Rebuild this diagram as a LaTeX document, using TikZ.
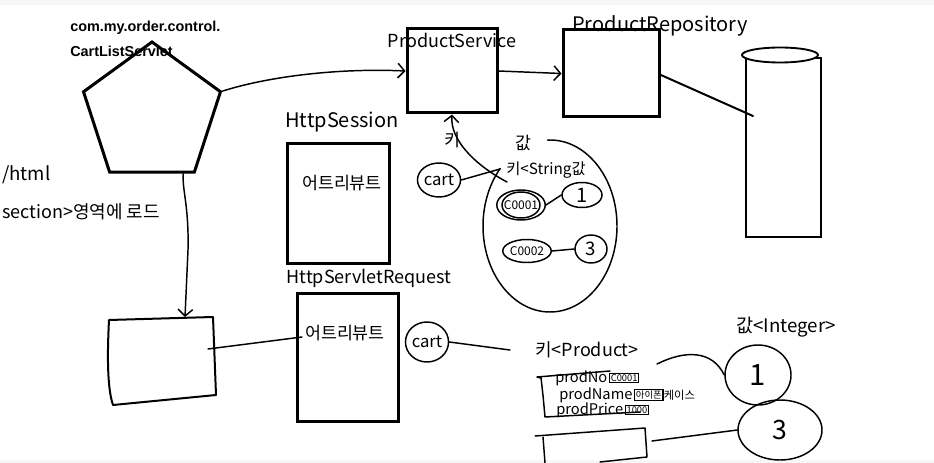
\documentclass[tikz,border=0pt]{standalone}
\usepackage{fontspec}
\setmainfont{Liberation Sans}
\newfontfamily\hw{Noto Sans CJK KR}
\usetikzlibrary{shapes.geometric,arrows.meta,calc}
\begin{document}
\begin{tikzpicture}[x=0.75pt,y=-0.75pt,
  hand/.style={font=\hw\fontsize{#1}{#1}\selectfont, inner sep=0pt},
  thickbox/.style={draw, rectangle, line width=2.25pt, inner sep=0pt},
  pen/.style={line width=1.1pt, line cap=round, line join=round},
  mid/.style={line width=1.5pt, line cap=round, line join=round},
  oval/.style={draw, ellipse, line width=1.1pt, inner sep=0pt},
  tip/.style={-{Straight Barb[length=5pt,width=11pt]}},
  smallbox/.style={draw, line width=0.8pt, inner sep=1pt, font=\hw\fontsize{7}{7}\selectfont},
  pkgtext/.style={font=\bfseries\fontsize{10.8}{12}\selectfont, anchor=base west, inner sep=0pt}
]
\useasboundingbox (0,0) rectangle (934,463);
\fill[white] (0,0) rectangle (934,463);
\fill[gray!7] (0,0) rectangle (934,5);
\fill[gray!7] (0,460) rectangle (934,463);

% title text
\node[pkgtext] (pkg) at (70,32) {com.my.order.control.};
\node[pkgtext] (cls) at (70,57) {CartListServlet};

% left handwritten text
\node[hand=14, anchor=west] (html) at (2,175) {/html};
\node[hand=13.5, anchor=west] (sect) at (2,212) {section>영역에 로드};

% servlet pentagon
\node[draw, regular polygon, regular polygon sides=5, minimum size=108pt,
      line width=2.25pt, inner sep=0pt] (pent) at (152,114) {};

% service / repository / db
\node[thickbox, minimum width=67.5pt, minimum height=63pt] (PS) at (452,71) {};
\node[hand=13.5] (PSl) at (452,40) {ProductService};
\node[thickbox, minimum width=72pt, minimum height=65.25pt] (PR) at (611,73.5) {};
\node[hand=15] (PRl) at (660,26) {ProductRepository};
\node[draw, rectangle, line width=1.6pt, minimum width=56.25pt, minimum height=134.25pt,
      inner sep=0pt] (DB) at (783.5,147.5) {};
\draw[line width=1.4pt, fill=white] (780,55) ellipse [x radius=38, y radius=7.5];
\coordinate (dbin) at (753,116);

\draw[pen, tip] (pent.corner 5) .. controls (270,76) and (340,68) .. (PS.west);
\draw[pen, tip] (PS.east) -- (PR.west);
\draw[mid] ([yshift=-1pt]PR.east) -- (dbin);

% session
\node[hand=15] (sessl) at (342,122) {HttpSession};
\node[thickbox, minimum width=76.5pt, minimum height=89.25pt] (sess) at (338,203.5) {};
\node[hand=13] (sessattr) at (342,183) {어트리뷰트};

% request
\node[hand=13.5] (reql) at (369,278) {HttpServletRequest};
\node[thickbox, minimum width=75.75pt, minimum height=96pt] (req) at (347.5,357) {};
\node[hand=13] (reqattr) at (345,333) {어트리뷰트};

% left box (jsp)
\coordinate (lb1) at (109,320);
\coordinate (lb2) at (213,317);
\coordinate (lb3) at (216,395);
\coordinate (lb4) at (113,405);
\draw[mid] (lb1) -- (lb2) -- (lb3) -- (lb4) .. controls (106,385) and (108,340) .. (lb1);
\coordinate (pentbot) at ($(pent.corner 3)!0.86!(pent.corner 4)$);
\coordinate (lbtop) at (185,317);
\draw[pen, tip] (pentbot) .. controls (182,190) and (189,205) .. (188,250) -- (lbtop);
\coordinate (lbout) at (208,349);
\coordinate (reqin) at (302,337);
\draw[pen] (lbout) -- (reqin);

% session map
\node[hand=13] (key1) at (452,140) {키};
\node[hand=13] (val1) at (523,143) {값};
\node[oval, minimum width=31.5pt, minimum height=25.5pt, hand=12.5] (scart) at (439,180) {cart};
\coordinate (xmark) at (500,169);
\draw[pen] (scart.east) -- (xmark);
\coordinate (curvest) at (507,182);
\draw[pen, tip] (curvest) .. controls (475,165) and (450,140) .. (PS.south);
\coordinate (mapc) at (550,226);
\draw[pen] ($(mapc)+(268:67 and 86)$) arc[start angle=268, end angle=582, x radius=67, y radius=86];
\node[hand=11.5] (kstr) at (546,170) {키<String값};
\node[oval, minimum width=31.5pt, minimum height=22.5pt, hand=9] (c1) at (521,205) {C0001};
\draw[pen] (521,205) ellipse [x radius=19, y radius=13];
\node[oval, minimum width=30pt, minimum height=18.75pt, hand=15] (one) at (582,195) {1};
\draw[pen] (c1.east) -- (one.west);
\node[oval, minimum width=36pt, minimum height=17.25pt, hand=9] (c2) at (527,251) {C0002};
\node[oval, minimum width=24pt, minimum height=21pt, hand=14] (three) at (591,249) {3};
\draw[pen] (c2.east) -- (three.west);

% request map
\node[oval, minimum width=31.5pt, minimum height=30pt, hand=12.5] (rcart) at (427,342) {cart};
\coordinate (rcartend) at (510,350);
\draw[pen] (rcart.east) -- (rcartend);
\node[hand=13.5] (kprod) at (587,350) {키<Product>};
\node[hand=14] (vint) at (786,327) {값<Integer>};

% product object
\draw[pen] (610,371) -- (537,377) -- (541,378) .. controls (543,395) .. (545,417) -- (640,412);
\node[hand=11, anchor=west] (pno) at (555,378) {prodNo};
\node[smallbox, anchor=west] (pnov) at ([xshift=1pt]pno.east) {C0001};
\node[hand=11, anchor=west] (pname) at (559,395) {prodName};
\node[smallbox, anchor=west] (pnamev) at ([xshift=1pt]pname.east) {아이폰};
\node[hand=8.5, anchor=west, inner sep=0pt] (pnamev2) at (pnamev.east) {케이스};
\node[hand=11, anchor=west] (pprice) at (556,410) {prodPrice};
\node[smallbox, anchor=west] (ppricev) at ([xshift=1pt]pprice.east) {1000};

\node[oval, minimum width=49.5pt, minimum height=45pt, hand=22] (bigone) at (758,375) {1};
\node[oval, minimum width=63pt, minimum height=45pt, hand=20] (bigthree) at (780,430) {3};
\coordinate (prodout) at (657,364);
\draw[pen] (prodout) .. controls (685,350) and (712,350) .. (bigone.west);

% second product object
\coordinate (pb1) at (535,436);
\coordinate (pb2) at (645,428);
\coordinate (pb3) at (647,457);
\coordinate (pb4) at (600,462);
\draw[pen] (pb1) -- (pb2) -- (pb3) -- (pb4);
\draw[pen] (543,437) -- (545,463);
\coordinate (pbout) at (652,441);
\draw[pen] (pbout) -- (bigthree.west);
\end{tikzpicture}
\end{document}
